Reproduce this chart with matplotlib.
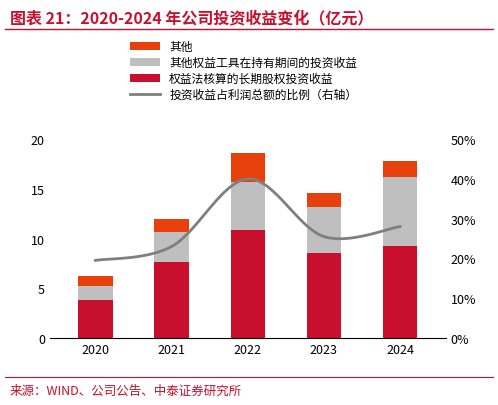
import matplotlib
matplotlib.use("Agg")
import matplotlib.pyplot as plt
import numpy as np

plt.rcParams['font.family'] = ['Noto Sans CJK SC', 'DejaVu Sans']

years = ['2020', '2021', '2022', '2023', '2024']
equity = [3.8, 7.6, 10.9, 8.5, 9.2]
fin_tools = [1.4, 3.1, 4.8, 4.7, 7.0]
other = [1.0, 1.3, 2.9, 1.4, 1.6]
ratio = [19.5, 23.0, 40.0, 25.5, 28.0]

fig = plt.figure(figsize=(4.98, 4.06), dpi=100)
ax = fig.add_axes([0.10, 0.165, 0.795, 0.49])
x = np.arange(len(years))
w = 0.45
c1, c2, c3 = '#C8102E', '#BFBFBF', '#E8400C'
ax.bar(x, equity, w, color=c1, label='权益法核算的长期股权投资收益')
ax.bar(x, fin_tools, w, bottom=equity, color=c2, label='其他权益工具在持有期间的投资收益')
b2 = [a + b for a, b in zip(equity, fin_tools)]
ax.bar(x, other, w, bottom=b2, color=c3, label='其他')
ax.set_ylim(0, 20)
ax.set_yticks([0, 5, 10, 15, 20])
ax.set_xticks(x)
ax.set_xticklabels(years)
ax.set_xlim(-0.6, 4.6)
for s in ['top', 'right', 'left']:
    ax.spines[s].set_visible(False)
ax.tick_params(length=0, labelsize=9)

ax2 = ax.twinx()
px = list(x); py = list(ratio)
xs, ys = [], []
P = [(px[0], py[0])] + list(zip(px, py)) + [(px[-1], py[-1])]
for i in range(1, len(P) - 2):
    p0, p1, p2, p3 = [np.array(P[j], float) for j in range(i - 1, i + 3)]
    for t in np.linspace(0, 1, 30):
        pt = 0.5 * ((2 * p1) + (-p0 + p2) * t + (2 * p0 - 5 * p1 + 4 * p2 - p3) * t**2 + (-p0 + 3 * p1 - 3 * p2 + p3) * t**3)
        xs.append(pt[0]); ys.append(pt[1])
line, = ax2.plot(xs, ys, color='#7F7F7F', lw=2, label='投资收益占利润总额的比例（右轴）')
ax2.set_ylim(0, 50)
ax2.set_yticks(range(0, 51, 10))
ax2.set_yticklabels([f'{v}%' for v in range(0, 51, 10)])
for s in ['top', 'right', 'left', 'bottom']:
    ax2.spines[s].set_visible(False)
ax2.tick_params(length=0, labelsize=9)

h, l = ax.get_legend_handles_labels()
handles = [h[2], h[1], h[0], line]
labels = [l[2], l[1], l[0], line.get_label()]
fig.legend(handles, labels, loc='upper left', bbox_to_anchor=(0.24, 0.925), frameon=False,
           fontsize=8.5, handlelength=2.5, labelspacing=0.25)

fig.text(0.02, 0.975, '图表 21：2020-2024 年公司投资收益变化（亿元）', color='#C8102E',
         fontsize=11.5, fontweight='bold', fontstyle='italic', va='top')
fig.add_artist(plt.Line2D([0.01, 0.99], [0.925, 0.925], color='#C8102E', lw=1))
fig.add_artist(plt.Line2D([0.01, 0.99], [0.068, 0.068], color='#C8102E', lw=0.8))
fig.text(0.02, 0.035, '来源：WIND、公司公告、中泰证券研究所', color='#C8102E', fontsize=9, va='center')
fig.savefig('out.png', dpi=100)
